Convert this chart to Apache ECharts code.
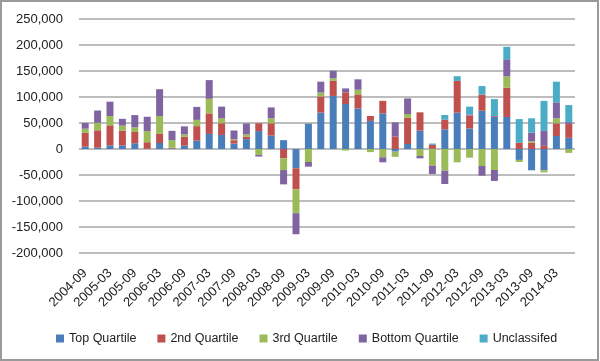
<!DOCTYPE html>
<html>
<head>
<meta charset="utf-8">
<script src="https://cdn.jsdelivr.net/npm/echarts@6/dist/echarts.min.js"></script>
<style>
html,body{margin:0;padding:0;background:#fff;}
#wrap{position:relative;width:600px;height:361px;}
#chart{position:absolute;left:0;top:0;width:600px;height:361px;}
#frame{position:absolute;left:0;top:0;width:599px;height:361px;box-sizing:border-box;border:2px solid #9a9a9a;pointer-events:none;}
</style>
</head>
<body>
<div id="wrap"><div id="chart"></div><div id="frame"></div></div>
<script>
var categories = [
  '2004-09','2004-12','2005-03','2005-06','2005-09','2005-12','2006-03','2006-06',
  '2006-09','2006-12','2007-03','2007-06','2007-09','2007-12','2008-03','2008-06',
  '2008-09','2008-12','2009-03','2009-06','2009-09','2009-12','2010-03','2010-06',
  '2010-09','2010-12','2011-03','2011-06','2011-09','2011-12','2012-03','2012-06',
  '2012-09','2012-12','2013-03','2013-06','2013-09','2013-12','2014-03','2014-06'
];
var seriesNames = ['Top Quartile','2nd Quartile','3rd Quartile','Bottom Quartile','Unclassifed'];
var topQuartile = [
  4500, 2500, 7000, 7000, 11000, 500, 11500, 1000, 6500, 16000,
  29000, 27000, 10500, 19000, 34500, 25700, 17000, -37000, 48700, 70000,
  102000, 86500, 78000, 54000, 68600, -5000, 9600, 35300, 500, 37800,
  70000, 39500, 73500, 62000, 61500, -21000, -41000, -41000, 25000, 21500
];
var secondQuartile = [
  26500, 33500, 38500, 28000, 21700, 12500, 17500, 1500, 17000, 28000,
  39500, 22500, 6400, 5000, 15000, 23700, -18000, -40500, 0, 31000,
  29000, 22500, 27000, 9500, 24000, 23700, 50700, 35200, 7500, 18600,
  61000, 25000, 31000, 1500, 56500, 12000, 12000, 6000, 24400, 26500
];
var thirdQuartile = [
  8000, 14500, 18000, 10000, 9000, 21500, 34500, 14500, 4500, 12000,
  28000, 9500, 2000, 4000, -11500, 9600, -22500, -46000, -25000, 7500,
  5000, -3000, 9000, -6000, -16000, -10000, 7000, -13500, -32000, -41700,
  -25600, -16700, -32700, -40400, 21500, -4000, 3000, -4000, 9600, -7500
];
var bottomQuartile = [
  11000, 23500, 27500, 13000, 23500, 27500, 51500, 18000, 15500, 25000,
  36000, 22500, 16700, 21000, -3000, 21000, -27500, -40500, -9000, 21000,
  14500, 7500, 20000, 0, -9600, 27500, 30000, -4500, -16000, -25600,
  0, 2000, -18600, -21000, 33000, 0, 16500, 29000, 30700, 3500
];
var unclassified = [
  0, 0, 0, 0, 0, 0, 0, 0, 0, 0,
  0, 0, 0, 0, 0, 0, 0, 0, 0, 0,
  0, 0, 0, 0, 0, 0, 0, 0, 2500, 9000,
  9000, 15000, 16500, 32500, 24000, 45500, 27500, 57500, 39800, 33000
];
var colors = ['#4a7ebb','#c0504d','#9bbb59','#8064a2','#4bacc6'];
var FONT = "'Liberation Sans',Arial,sans-serif";

var values = [topQuartile, secondQuartile, thirdQuartile, bottomQuartile, unclassified];
var chart = echarts.init(document.getElementById('chart'), null, {renderer:'canvas'});
chart.setOption({
  animation: false,
  color: colors,
  textStyle: {fontFamily: FONT},
  grid: {left: 79, right: 25, top: 19, bottom: 108, containLabel: false},
  legend: {
    bottom: 11, left: 51, icon: 'rect', itemWidth: 8, itemHeight: 8, itemGap: 21,
    textStyle: {fontFamily: FONT, fontSize: 12.5, color: '#222'},
    data: seriesNames
  },
  xAxis: {
    type: 'category', data: categories,
    axisLine: {show: false, onZero: false},
    axisTick: {show: false},
    axisLabel: {interval: 1, rotate: 45, margin: 18, fontFamily: FONT, fontSize: 13, color: '#222'}
  },
  yAxis: {
    type: 'value', min: -200000, max: 250000, interval: 50000,
    axisLine: {show: false}, axisTick: {show: false},
    splitLine: {lineStyle: {color: '#bdbdbd', width: 2}},
    axisLabel: {margin: 16, fontFamily: FONT, fontSize: 13, color: '#222',
      formatter: function(v){ return v.toLocaleString('en-US'); }}
  },
  series: seriesNames.map(function(n, i){
    return {name: n, type: 'bar', stack: 'total', barWidth: 7, data: values[i]};
  })
});
</script>
</body>
</html>
